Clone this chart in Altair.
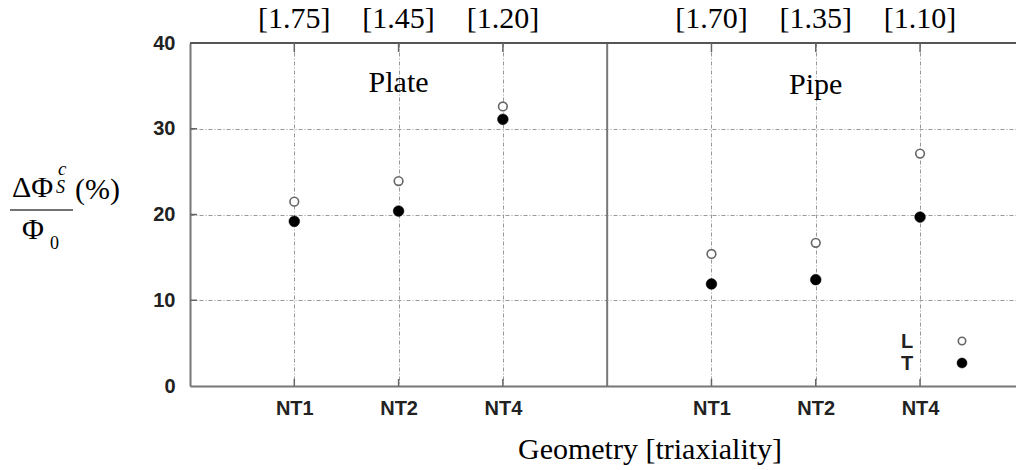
import altair as alt
import pandas as pd

# Measured loss of flux for each specimen geometry, two orientations
specimen = ["Plate", "Plate", "Plate", "Pipe", "Pipe", "Pipe"]
geometry = ["NT1", "NT2", "NT4", "NT1", "NT2", "NT4"]
slot = [1, 2, 3, 5, 6, 7]
triaxiality = [1.75, 1.45, 1.20, 1.70, 1.35, 1.10]
loss_L = [21.5, 23.9, 32.6, 15.4, 16.7, 27.1]
loss_T = [19.2, 20.4, 31.1, 11.9, 12.4, 19.7]
y_ticks = [0, 10, 20, 30, 40]
inner_ticks = [10, 20, 30]
divider = [4]
group_names = ["Plate", "Pipe"]
group_slot = [2, 6]

SERIF = "Liberation Serif"
SANS = "Liberation Sans"
W, H = 826, 343

pts = pd.DataFrame({
    "slot": slot * 2,
    "value": loss_L + loss_T,
    "dir": ["L"] * len(slot) + ["T"] * len(slot),
})
cols = pd.DataFrame({
    "slot": slot, "geometry": geometry, "specimen": specimen,
    "tri": ["[%.2f]" % t for t in triaxiality],
})

label_expr = " : ".join(
    f"datum.value == {s} ? '{g}'" for s, g in zip(slot, geometry)
) + " : ''"

xs = alt.Scale(domain=[0, 7.92], nice=False, zero=False)
ys = alt.Scale(domain=[0, 40], nice=False)
X = alt.X("slot:Q", scale=xs)

# invisible carrier layer holding the axes and the dotted grid
axes_layer = alt.Chart(pd.DataFrame({"slot": slot, "value": loss_T})).mark_point(opacity=0).encode(
    x=alt.X("slot:Q", scale=xs, axis=alt.Axis(
        values=slot, labelExpr=label_expr, title=None, ticks=False,
        labelFont=SANS, labelFontWeight="bold", labelFontSize=20, labelColor="#222",
        labelPadding=12, labelBaseline="top",
        domainColor="#777", domainWidth=2,
        grid=True, gridColor="#999", gridDash=[4, 2, 1, 2], gridWidth=1,
    )),
    y=alt.Y("value:Q", scale=ys, axis=alt.Axis(
        values=y_ticks, title=None, ticks=False,
        labelFont=SANS, labelFontWeight="bold", labelFontSize=20, labelColor="#222",
        labelPadding=15, domainColor="#777", domainWidth=2,
        grid=True, gridColor="#999", gridDash=[4, 2, 1, 2], gridWidth=1,
    )),
)

top_line = alt.Chart(pd.DataFrame({"value": [40]})).mark_rule(color="#555", strokeWidth=2).encode(
    y=alt.Y("value:Q", scale=ys)
)
sep_line = alt.Chart(pd.DataFrame({"slot": divider})).mark_rule(color="#777", strokeWidth=2).encode(x=X)

bottom_ticks = alt.Chart(cols).mark_rule(color="#666", strokeWidth=1.5).encode(
    x=X, y=alt.value(H), y2=alt.value(H - 7)
)
top_ticks = alt.Chart(cols).mark_rule(color="#666", strokeWidth=1.5).encode(
    x=X, y=alt.value(0), y2=alt.value(9)
)
left_ticks = alt.Chart(pd.DataFrame({"value": inner_ticks})).mark_rule(color="#666", strokeWidth=1.5).encode(
    y=alt.Y("value:Q", scale=ys), x=alt.value(0), x2=alt.value(7)
)

open_pts = alt.Chart(pts).transform_filter("datum.dir == 'L'").mark_point(
    shape="circle", filled=True, fill="white", stroke="#666", strokeWidth=1.6, size=75, opacity=1
).encode(x=X, y=alt.Y("value:Q", scale=ys))
solid_pts = alt.Chart(pts).transform_filter("datum.dir == 'T'").mark_point(
    shape="circle", filled=True, fill="black", stroke="black", strokeWidth=0.5, size=115, opacity=1
).encode(x=X, y=alt.Y("value:Q", scale=ys))

tri_text = alt.Chart(cols).mark_text(
    font=SERIF, fontSize=30, color="black", baseline="alphabetic"
).encode(x=X, y=alt.value(-15), text="tri:N")


def piece(txt, x, y, size, style="normal", align="left", font=SERIF, weight="normal", color="black"):
    return alt.Chart(pd.DataFrame({"t": [txt]})).mark_text(
        font=font, fontSize=size, fontStyle=style, fontWeight=weight, color=color,
        baseline="alphabetic", align=align
    ).encode(x=alt.value(x), y=alt.value(y), text="t:N")


group_text = [
    alt.Chart(pd.DataFrame({"slot": [s], "name": [n]})).mark_text(
        font=SERIF, fontSize=30, color="black", baseline="alphabetic"
    ).encode(x=X, y=alt.value(yy), text="name:N")
    for s, n, yy in zip(group_slot, group_names, [49, 51])
]

x_title = piece("Geometry [triaxiality]", 460, 416, 30, align="center")

# y title written as a fraction
y_title = [
    piece("ΔΦ", -178, 154, 30),
    piece("c", -132, 132, 19, "italic"),
    piece("S", -134, 150, 18, "italic"),
    piece("Φ", -168, 196, 30),
    piece("0", -140, 206, 18),
    piece("(%)", -115, 156, 30),
]
frac_line = alt.Chart(pd.DataFrame({"a": [0]})).mark_rule(color="#444", strokeWidth=1.5).encode(
    x=alt.value(-180), x2=alt.value(-117), y=alt.value(167)
)

# legend in the lower right corner
leg_text = [
    piece("L", 717, 305, 20, align="center", font=SANS, weight="bold", color="#222"),
    piece("T", 717, 327, 20, align="center", font=SANS, weight="bold", color="#222"),
]
leg_open = alt.Chart(pd.DataFrame({"a": [0]})).mark_point(
    shape="circle", filled=True, fill="white", stroke="#666", strokeWidth=1.6, size=55, opacity=1
).encode(x=alt.value(772), y=alt.value(298))
leg_solid = alt.Chart(pd.DataFrame({"a": [0]})).mark_point(
    shape="circle", filled=True, fill="black", stroke="black", strokeWidth=0.5, size=100, opacity=1
).encode(x=alt.value(772), y=alt.value(320))

chart = alt.layer(
    axes_layer, sep_line, top_line, bottom_ticks, top_ticks, left_ticks,
    open_pts, solid_pts, tri_text, *group_text, x_title, frac_line, *y_title,
    *leg_text, leg_open, leg_solid,
).properties(
    width=W, height=H,
    autosize=alt.AutoSizeParams(type="none"),
    padding={"left": 190, "top": 43, "right": 0, "bottom": 84},
    background="white",
).configure_view(stroke=None)

chart.save("out.html", embed_options={"renderer": "svg", "actions": False})
